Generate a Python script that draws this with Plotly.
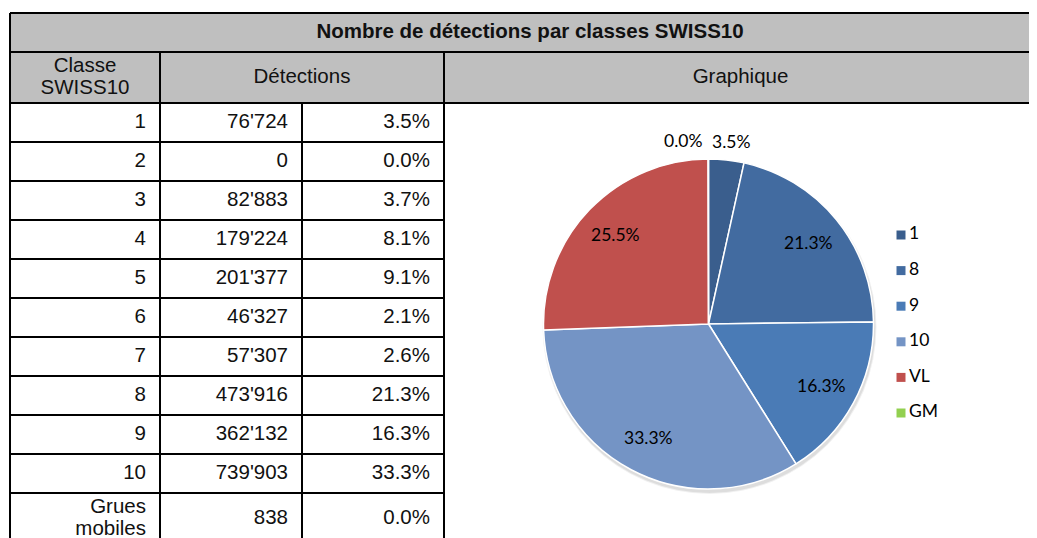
import math
import plotly.graph_objects as go

W, H = 1037, 538          # target page size
OFF = 8                   # default page margin around the plot div
FW, FH = W - OFF, H - OFF # figure size so that it fills the page exactly

# ---------------- data ----------------
title = "Nombre de détections par classes SWISS10"
col_headers = ["Classe<br>SWISS10", "Détections", "Graphique"]
classes = ["1", "2", "3", "4", "5", "6", "7", "8", "9", "10", "Grues<br>mobiles"]
detections = [76724, 0, 82883, 179224, 201377, 46327, 57307, 473916, 362132, 739903, 838]

total = sum(detections)
pct = [v / total for v in detections]

pie_labels = ["1", "8", "9", "10", "VL", "GM"]
vl_value = sum(detections[1:7])  # classes 2..7
pie_values = [detections[0], detections[7], detections[8], detections[9], vl_value, detections[10]]
pie_colors = ["#3A5E8D", "#426BA0", "#4A7BB6", "#7494C5", "#C0504D", "#92D050"]
small_slices = [0, 5]  # labelled outside (Excel style)

# ---------------- geometry ----------------
xL, c1, c2, c3, xR = 10, 160, 302, 444, 1050
y_top, y_title, y_head = 13, 52, 103
row_h = 39
n_rows = len(classes)
row_tops = [y_head + i * row_h for i in range(n_rows)]
y_bottom = y_head + n_rows * row_h + 12
LINE_GAP = 22

FONT = "Liberation Sans, Arial, sans-serif"
PFONT = "Lato, Calibri, sans-serif"

fig = go.Figure()

shapes = []
shapes.append(dict(type="rect", x0=xL, x1=xR, y0=y_top, y1=y_head, fillcolor="#BFBFBF",
                   line=dict(width=0), layer="below"))
line = dict(color="black", width=2)
for y in (y_top, y_title, y_head):
    shapes.append(dict(type="line", x0=xL, x1=xR, y0=y, y1=y, line=line))
for t in row_tops[1:]:
    shapes.append(dict(type="line", x0=xL, x1=c3, y0=t, y1=t, line=line))
shapes.append(dict(type="line", x0=xL, x1=xL, y0=y_top, y1=y_bottom, line=line))
shapes.append(dict(type="line", x0=c1, x1=c1, y0=y_title, y1=y_bottom, line=line))
shapes.append(dict(type="line", x0=c2, x1=c2, y0=y_head, y1=y_bottom, line=line))
shapes.append(dict(type="line", x0=c3, x1=c3, y0=y_title, y1=y_bottom, line=line))

cx, cy, R = 708.5, 324, 165
for k, a in enumerate([0.06, 0.08]):
    d = 2 - k
    shapes.append(dict(type="circle", x0=cx - R + 1 - d, x1=cx + R + 1 + d, y0=cy - R + 3 - d, y1=cy + R + 3 + d,
                       fillcolor=f"rgba(0,0,0,{a})", line=dict(width=0), layer="below"))


def fmt_int(v):
    return f"{v:,}".replace(",", "'")


def add_text(xs, ys, texts, pos, font):
    """Text marks; multi-line strings are split and spaced like the reference."""
    X, Y, T = [], [], []
    for x, y, t in zip(xs, ys, texts):
        parts = t.split("<br>")
        n = len(parts)
        for j, p in enumerate(parts):
            X.append(x)
            Y.append(y + (j - (n - 1) / 2) * LINE_GAP)
            T.append(p)
    fig.add_trace(go.Scatter(x=X, y=Y, mode="text", text=T, textposition=pos, textfont=font,
                             hoverinfo="skip", showlegend=False, cliponaxis=False))


row_mid = [t + row_h / 2 for t in row_tops]
row_mid[-1] = row_tops[-1] + 26

tf = dict(family=FONT, size=20.5, color="#111111")
add_text([(xL + xR) / 2], [(y_top + y_title) / 2], [f"<b>{title}</b>"], "middle center", tf)
add_text([(xL + c1) / 2, (c1 + c3) / 2, (c3 + W) / 2], [(y_title + y_head) / 2] * 3, col_headers, "middle center", tf)
add_text([c1 - 14] * n_rows, row_mid, classes, "middle left", tf)
add_text([c2 - 14] * n_rows, row_mid, [fmt_int(v) for v in detections], "middle left", tf)
add_text([c3 - 14] * n_rows, row_mid, [f"{p:.1%}" for p in pct], "middle left", tf)

# ---------------- pie ----------------
ptot = sum(pie_values)
fig.add_trace(go.Pie(
    labels=pie_labels, values=pie_values, sort=False, direction="clockwise", rotation=0,
    marker=dict(colors=pie_colors, line=dict(color="white", width=1.5)),
    textinfo="none",
    domain=dict(x=[(cx - R - OFF) / FW, (cx + R - OFF) / FW], y=[(H - cy - R) / FH, (H - cy + R) / FH]),
    showlegend=False, hoverinfo="label+percent",
))

# data labels (Excel "best fit" style): inside at ~0.78 R, tiny slices outside.
# Annotations so that they are drawn above the pie layer.
pf = dict(family=PFONT, size=17.5, color="black")
annotations = []
cum = 0
for i, v in enumerate(pie_values):
    th = 2 * math.pi * (cum + v / 2) / ptot
    cum += v
    lab = f"{v / ptot:.1%}"
    if i in small_slices:
        s = 1 if math.sin(th) > 0.0001 else -1
        annotations.append(dict(
            x=cx + (R + 6) * math.sin(th) + 4 * s, y=cy - (R + 6) * math.cos(th),
            xref="x", yref="y", text=lab, showarrow=False, font=pf,
            xanchor="center" if s > 0 else "right", yanchor="bottom"))
    else:
        annotations.append(dict(
            x=cx + 0.78 * R * math.sin(th), y=cy - 0.78 * R * math.cos(th),
            xref="x", yref="y", text=lab, showarrow=False, font=pf,
            xanchor="center", yanchor="middle"))

# ---------------- legend (manual) ----------------
lg_x, lg_y0, lg_dy = 901, 235, 35.6
lg_y = [lg_y0 + i * lg_dy for i in range(len(pie_labels))]
fig.add_trace(go.Scatter(x=[lg_x] * len(pie_labels), y=lg_y, mode="markers",
                         marker=dict(symbol="square", size=9, color=pie_colors), hoverinfo="skip",
                         showlegend=False, cliponaxis=False))
fig.add_trace(go.Scatter(x=[lg_x + 8] * len(pie_labels), y=lg_y, mode="text", text=pie_labels,
                         textposition="middle right", textfont=pf,
                         hoverinfo="skip", showlegend=False, cliponaxis=False))

fig.update_layout(
    width=FW, height=FH, margin=dict(l=0, r=0, t=0, b=0),
    paper_bgcolor="white", plot_bgcolor="white",
    xaxis=dict(range=[OFF, W], visible=False, fixedrange=True, domain=[0, 1]),
    yaxis=dict(range=[H, OFF], visible=False, fixedrange=True, domain=[0, 1]),
    shapes=shapes, annotations=annotations,
)

fig.write_html("out.html")
